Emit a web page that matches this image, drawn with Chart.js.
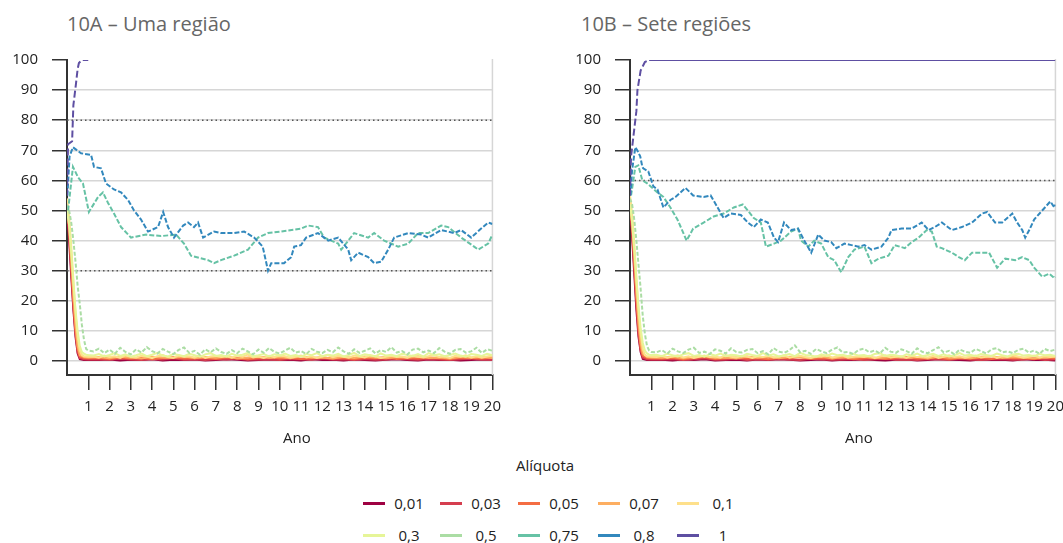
<!DOCTYPE html>
<html lang="pt">
<head>
<meta charset="UTF-8" />
<script src="https://cdn.jsdelivr.net/npm/chart.js"></script>
<title>Alíquota – uma região e sete regiões</title>
<style>
    body {
        margin: 0;
        width: 1063px;
        height: 543px;
        background: #fff;
        position: relative;
        overflow: hidden;
        font-family: "Open Sans", sans-serif;
        color: #222;
    }
    canvas { position: absolute; top: 0; }
    .titulo { position: absolute; top: 10px; font-size: 20px; color: #666; white-space: nowrap; }
    .ano { position: absolute; top: 427px; font-size: 15px; }
    #aliquota { position: absolute; top: 455px; left: 0; width: 1090px; text-align: center; font-size: 15px; }
    .item { position: absolute; height: 22px; display: flex; align-items: center; font-size: 15px; }
    .item .linha { width: 22px; height: 3px; }
    .item span { width: 48px; text-align: center; }
</style>
</head>
<body>

<div class="titulo" style="left:67px">10A – Uma região</div>
<div class="titulo" style="left:581px">10B – Sete regiões</div>

<canvas id="graficoA" width="509" height="430" style="left:0"></canvas>
<canvas id="graficoB" width="509" height="430" style="left:563px"></canvas>

<div class="ano" style="left:283px">Ano</div>
<div class="ano" style="left:845px">Ano</div>

<div id="aliquota">Alíquota</div>
<div id="legenda"></div>

<script>
    // rótulos e cores das alíquotas
    const aliquotas = ['0,01', '0,03', '0,05', '0,07', '0,1', '0,3', '0,5', '0,75', '0,8', '1'];
    const cores = ['#9e0142', '#d53e4f', '#f46d43', '#fdae61', '#fee08b', '#e6f598', '#abdda4', '#66c2a5', '#3288bd', '#5e4fa2'];

    const anos = [1, 2, 3, 4, 5, 6, 7, 8, 9, 10, 11, 12, 13, 14, 15, 16, 17, 18, 19, 20];
    const ticksY = [0, 10, 20, 30, 40, 50, 60, 70, 80, 90, 100];

    // grades de tempo (anos)
    const anosFino = [0,0.1,0.2,0.3,0.4,0.5,0.6,0.7,0.8,0.9,1,1.25,1.5,1.75,2,2.25,2.5,2.75,3,3.25,3.5,3.75,4,4.25,4.5,4.75,5,5.25,5.5,5.75,6,6.25,6.5,6.75,7,7.25,7.5,7.75,8,8.25,8.5,8.75,9,9.25,9.5,9.75,10,10.25,10.5,10.75,11,11.25,11.5,11.75,12,12.25,12.5,12.75,13,13.25,13.5,13.75,14,14.25,14.5,14.75,15,15.25,15.5,15.75,16,16.25,16.5,16.75,17,17.25,17.5,17.75,18,18.25,18.5,18.75,19,19.25,19.5,19.75,20];
    const anosGrosso = [0,0.1,0.2,0.3,0.4,0.5,0.6,0.8,1,1.5,2,2.5,3,3.5,4,4.5,5,5.5,6,6.5,7,7.5,8,8.5,9,9.5,10,10.5,11,11.5,12,12.5,13,13.5,14,14.5,15,15.5,16,16.5,17,17.5,18,18.5,19,19.5,20];

    // ---- 10A: uma região ----
    const a001 = [50,40,28,17,8,2.5,0.6,0.3,0.3, 0.3,0.5,0.2,0.4,0.3,0.6,0.2,0.4,0.3,0.5,0.2,0.3,0.6,0.4,0.2,0.3,0.5,0.3,0.4,0.2,0.6,0.3,0.4,0.2,0.5,0.3,0.2,0.4,0.6,0.3,0.2,0.5,0.3,0.4,0.2,0.3,0.5,0.4];
    const a003 = [51,42,30,18,9,3,1,0.6,0.5, 0.6,0.4,0.8,0.5,0.3,0.7,0.5,0.9,0.4,0.6,0.3,0.7,0.5,0.8,0.4,0.6,0.5,0.3,0.7,0.6,0.4,0.8,0.5,0.6,0.3,0.7,0.4,0.5,0.9,0.6,0.4,0.7,0.5,0.3,0.6,0.8,0.5,0.4];
    const a005 = [52,44,32,20,10,4,1.5,1.0,0.9, 1.0,0.7,1.2,0.8,1.1,0.6,1.0,1.3,0.8,0.9,1.1,0.7,1.2,0.9,0.6,1.0,1.3,0.8,1.1,0.7,0.9,1.2,0.8,1.0,0.6,1.1,0.9,1.3,0.7,1.0,0.8,1.2,0.9,0.7,1.1,1.0,0.8,1.2];
    const a007 = [53,45,34,22,12,5,2,1.3,1.2, 1.3,0.9,1.5,1.1,0.8,1.4,1.2,1.0,1.6,0.9,1.3,1.1,1.5,0.8,1.2,1.4,1.0,1.3,0.9,1.6,1.1,1.2,0.8,1.4,1.0,1.5,1.2,0.9,1.3,1.1,1.6,1.0,1.2,0.8,1.4,1.1,1.3,1.0];
    const a01 = [54,48,38,27,16,8,3.5,2,1.6,1.5,1.4,
        1.5,1.1,1.8,1.3,1.6,1.0,1.9,1.4,1.2,1.7,1.5,0.9,1.6,2.0,1.3,1.1,1.8,1.4,1.6,1.2,
        1.9,1.0,1.5,1.7,1.3,1.6,1.1,1.8,1.4,2.1,1.2,1.5,1.0,1.7,1.3,1.9,1.6,1.1,1.4,1.8,
        1.2,1.6,1.0,1.5,2.0,1.3,1.7,1.4,1.1,1.8,1.5,1.2,1.9,1.6,1.0,1.4,1.7,1.3,1.5,1.1,
        1.8,1.4,1.2,1.6,2.0,1.3,1.5,1.0,1.7,1.4,1.9,1.2,1.6,1.1,1.5,1.8];
    const a03 = [50,45,36,26,17,10,5,3,2.4,2.1,2.0,
        1.8,2.3,1.5,2.0,2.6,1.7,2.2,1.4,1.9,2.5,1.6,2.1,2.7,1.8,1.5,2.3,2.0,1.6,2.4,1.9,
        1.4,2.2,2.6,1.7,2.0,1.5,2.4,1.8,2.1,2.7,1.6,1.9,2.3,1.5,2.2,1.8,2.5,1.7,2.0,1.4,
        2.3,1.9,2.6,1.6,2.1,1.8,2.4,1.5,2.0,2.7,1.7,2.2,1.9,1.5,2.5,1.8,2.1,1.6,2.4,2.0,
        1.7,2.3,1.5,2.6,1.9,2.2,1.6,2.0,2.5,1.8,1.4,2.3,2.1,1.7,2.4,1.9];
    const a05 = [52,50,46,40,33,25,19,12,7,4,3.5,
        3.2,4.1,2.6,3.8,2.4,4.4,3.0,2.2,3.9,2.8,4.6,3.3,2.5,4.0,3.1,2.3,3.7,4.5,2.7,3.4,
        2.1,3.9,2.9,4.2,3.0,2.4,3.6,2.6,4.1,3.2,2.2,3.8,2.7,4.3,3.0,2.5,3.5,4.4,2.8,3.3,
        2.3,4.0,3.1,2.6,3.7,2.9,4.5,3.2,2.4,3.9,2.7,3.4,4.2,2.5,3.6,3.0,4.6,2.8,3.3,2.2,
        3.8,4.1,2.9,3.5,2.6,4.3,3.1,2.4,3.7,4.0,2.8,3.2,4.4,2.7,3.9,3.4];
    const anosA075 = [0.05,0.28,0.52,0.75,1.03,1.46,1.69,1.93,2.21,2.54,3.01,3.72,4.42,5.13,5.5,5.83,6.63,6.91,7.24,7.86,8.51,8.98,9.45,10.07,11.0,11.34,11.8,12.09,12.75,12.89,13.5,14.16,14.44,14.91,15.57,16.04,16.51,16.98,17.59,17.92,18.53,19.14,19.33,19.8,20];
    const a075 = [50,64.5,61,59,49.5,54.5,56,52.5,49,44.5,41,42,41.5,42,39,35,33.5,32.5,33.5,35,37,41,42.5,43,44,45,44.5,41,39,37,42.5,41,42.5,40,38,39,42.5,42.5,45,44.5,41,38,37,39,42];
    const anosA08 = [0.02,0.12,0.28,0.66,1.13,1.27,1.6,1.83,2.21,2.54,2.87,3.15,3.48,3.81,4.28,4.52,4.75,5.03,5.46,5.69,5.97,6.16,6.4,6.91,7.24,7.86,8.33,8.8,9.2,9.45,9.6,10.2,10.54,10.68,11.0,11.24,11.8,12.28,12.75,13.22,13.36,13.69,14.16,14.44,14.77,15.1,15.38,16.04,16.65,16.98,17.59,18.2,18.53,19.0,19.47,19.8,20];
    const a08 = [55,68,71,69,68.5,64.5,64,59,57,56,53.5,50,47,43,44.5,49.5,44.5,41,45,46,44.5,46,41,43,42.5,42.5,43,41,38,30,32.5,32.5,34.5,38,38.5,41,42.5,40,41,37,33.5,36,34.5,32.5,33,37,41,42.5,42,41,43.5,42.5,43.5,41,44,46,45.5];
    const anosA1 = [0,0.05,0.24,0.3,0.42,0.5,0.56,0.7,1.0];
    const a1 = [55,72,73,85,92,97,99,100,100];
    const refA = [80, 30];

    // ---- 10B: sete regiões ----
    const b001 = [51,41,29,17,8,3,0.7,0.3,0.3, 0.4,0.2,0.5,0.3,0.6,0.2,0.3,0.4,0.2,0.5,0.3,0.6,0.4,0.2,0.3,0.5,0.2,0.4,0.3,0.6,0.3,0.2,0.4,0.5,0.2,0.3,0.6,0.4,0.3,0.2,0.5,0.3,0.4,0.2,0.6,0.3,0.4,0.2];
    const b003 = [52,43,31,19,9,3.5,1.2,0.6,0.5, 0.5,0.7,0.3,0.6,0.9,0.4,0.5,0.8,0.3,0.6,0.4,0.7,0.5,0.3,0.8,0.6,0.4,0.5,0.7,0.3,0.6,0.9,0.4,0.5,0.3,0.7,0.6,0.4,0.8,0.5,0.3,0.6,0.7,0.4,0.5,0.9,0.3,0.6];
    const b005 = [53,44,33,21,11,4.5,1.8,1.0,0.9, 0.8,1.1,0.6,1.0,1.3,0.7,0.9,1.2,0.8,1.0,0.6,1.1,0.9,1.3,0.7,1.0,0.8,1.2,0.6,0.9,1.1,0.7,1.0,1.3,0.8,0.9,1.2,0.6,1.0,0.8,1.1,0.7,1.3,0.9,1.0,0.6,1.2,0.8];
    const b007 = [54,46,35,23,13,6,2.5,1.3,1.2, 1.1,1.4,0.9,1.3,1.6,1.0,1.2,0.8,1.5,1.1,1.3,0.9,1.4,1.2,1.0,1.6,0.8,1.3,1.1,1.5,0.9,1.2,1.4,1.0,1.3,0.8,1.5,1.1,1.2,0.9,1.4,1.6,1.0,1.3,1.1,0.9,1.2,1.4];
    const b01 = [55,49,39,28,17,9,4,2,1.6,1.5,1.4,
        1.3,1.7,1.1,1.5,1.9,1.2,1.6,1.0,1.4,1.8,1.3,1.5,1.1,2.0,1.4,1.2,1.7,1.5,1.0,1.6,
        1.3,1.8,1.2,1.4,1.9,1.1,1.5,1.7,1.3,1.0,1.6,1.4,2.0,1.2,1.5,1.8,1.1,1.4,1.6,1.3,
        1.7,1.0,1.5,1.9,1.2,1.4,1.6,1.1,1.8,1.3,1.5,1.2,1.7,1.0,1.4,1.9,1.3,1.6,1.1,1.5,
        1.8,1.2,1.4,1.7,1.0,1.6,1.3,1.9,1.5,1.1,1.4,1.8,1.2,1.6,1.3,1.5];
    const b03 = [52,46,37,27,18,11,6,3.5,2.5,2.1,2.0,
        2.1,1.6,2.4,1.9,1.5,2.2,2.6,1.7,2.0,1.4,2.3,1.8,2.5,1.6,2.1,1.9,1.5,2.4,2.0,1.7,
        2.6,1.8,2.2,1.5,1.9,2.3,1.6,2.7,2.0,1.8,1.4,2.2,1.7,2.5,1.9,2.1,1.6,2.4,1.8,2.0,
        1.5,2.3,2.6,1.7,2.1,1.9,1.4,2.2,1.8,2.5,1.6,2.0,2.4,1.7,2.2,1.5,1.9,2.6,1.8,2.1,
        1.6,2.3,2.0,1.7,2.5,1.9,1.5,2.2,2.4,1.8,2.0,1.6,2.3,1.9,2.1,1.7];
    const b05 = [54,52,47,40,32,24,15,9,5,3.5,3,
        2.9,3.6,2.4,4.1,3.2,2.6,3.8,4.4,2.7,3.1,2.3,3.9,3.4,2.5,4.2,3.0,2.8,3.7,4.0,2.6,
        3.3,2.2,4.3,3.1,2.7,3.6,5.2,2.9,3.4,2.4,4.0,3.2,2.6,3.8,4.5,2.8,3.0,2.3,3.7,4.1,
        2.9,3.5,2.5,4.4,3.1,2.7,3.9,3.3,2.4,4.2,3.0,2.6,3.6,4.6,2.8,3.4,2.2,3.8,3.1,2.7,
        4.0,3.3,2.5,3.9,4.3,2.9,3.2,2.6,3.7,4.1,2.8,3.5,2.4,4.0,3.3,3.8];
    const anosB075 = [0.05,0.25,0.39,0.58,0.81,1.29,1.57,1.9,2.23,2.51,2.66,2.97,3.46,3.93,4.4,4.88,5.3,5.54,5.82,6.15,6.39,6.77,7.1,7.57,7.9,8.04,8.38,8.66,8.99,9.32,9.6,9.93,10.26,10.55,11.02,11.35,11.68,12.15,12.44,12.92,13.24,13.57,13.95,14.19,14.42,14.66,15.13,15.46,15.74,16.08,16.55,16.88,17.26,17.64,18.11,18.44,18.77,19.0,19.38,19.71,19.95,20];
    const b075 = [55,64.5,65,60,59,56,54.5,51,47,42.5,40,44,46,48,49,51,52,50,47.5,46,38,39,40,43,44,40,38,40,39,34.5,33.5,29.5,34.5,37,38,32.5,34,35,38.5,37.5,39.5,41,43.5,43,38,37.5,36,34.5,33.5,36,36,36,31,34,33.5,34.5,33.5,31,28,29,27.5,28];
    const anosB08 = [0.02,0.1,0.25,0.34,0.48,0.58,0.62,0.86,1.1,1.29,1.57,1.9,2.14,2.61,2.97,3.46,3.79,4.12,4.4,4.73,5.21,5.54,5.82,6.15,6.48,6.77,6.96,7.24,7.57,7.9,8.19,8.52,8.85,9.13,9.46,9.7,10.08,10.41,10.74,11.02,11.35,11.82,12.15,12.29,12.77,13.24,13.71,14.04,14.33,14.66,15.13,15.6,16.08,16.55,16.79,17.16,17.5,17.97,18.2,18.44,18.58,18.77,19.0,19.38,19.76,19.95,20];
    const b08 = [55,63.5,71,70,68,64.5,64,63,58,57,51,53.5,54.5,57.5,55,54.5,55,51,47.5,49,48.5,46,44.5,47,46,41,39.5,46,43.5,44,40,36,42,40,39.5,37.5,39,38.5,38,38.5,37,38,41,43.5,44,44,46,43.5,44.5,46,43.5,44.5,46,49,49.5,46,46,49,46,43.5,41,43.5,47,50,53,51,52];
    const anosB1 = [0,0.05,0.15,0.3,0.35,0.5,0.7,0.9,20];
    const b1 = [55,68,74,83,90,96.5,99.3,100,100];
    const refB = [60];

    const fonte = { family: '"Open Sans", sans-serif', size: 15 };

    function pontos(xs, ys) {
        return xs.map((x, i) => ({ x: x, y: ys[i] }));
    }

    function montarSeries(lista) {
        // lista na ordem das alíquotas: [anos, valores]; 0,01 fica por baixo
        return lista.map((s, i) => {
            const ds = {
                label: aliquotas[i],
                data: pontos(s[0], s[1]),
                borderColor: cores[i],
                borderWidth: 2,
                pointRadius: 0,
                tension: 0,
                fill: false,
                order: 20 - i
            };
            if (i === 6) ds.borderDash = [4, 2];
            if (i === 7 || i === 8) ds.borderDash = [5, 2];
            if (i === 9) {
                ds.segment = { borderDash: c => c.p0.parsed.x < 0.85 ? [7, 3] : undefined };
            }
            return ds;
        });
    }

    function linhasRef(valores) {
        return valores.map(v => ({
            label: 'ref',
            data: [{ x: 0, y: v }, { x: 20, y: v }],
            borderColor: '#555',
            borderWidth: 1.5,
            borderDash: [1.5, 3],
            pointRadius: 0,
            order: 30
        }));
    }

    const bordaDireita = {
        id: 'bordaDireita',
        beforeDatasetsDraw(chart) {
            const { ctx, chartArea: a } = chart;
            ctx.save();
            ctx.strokeStyle = '#d6d6d6';
            ctx.lineWidth = 1.5;
            ctx.beginPath();
            ctx.moveTo(a.right, a.top - 1);
            ctx.lineTo(a.right, a.bottom);
            ctx.stroke();
            ctx.restore();
        }
    };

    function criarGrafico(id, series, refs) {
        return new Chart(document.getElementById(id), {
            type: 'line',
            data: { datasets: montarSeries(series).concat(linhasRef(refs)) },
            options: {
                responsive: false,
                animation: false,
                devicePixelRatio: 1,
                layout: { padding: { top: 60, right: 0, left: 0, bottom: 0 } },
                plugins: { legend: { display: false }, tooltip: { enabled: false } },
                scales: {
                    x: {
                        type: 'linear',
                        min: 0,
                        max: 20,
                        afterBuildTicks: s => { s.ticks = anos.map(v => ({ value: v })); },
                        afterFit: s => { s.height = 55; },
                        ticks: { autoSkip: false, maxRotation: 0, padding: 8, font: fonte, color: '#222' },
                        grid: { drawOnChartArea: false, tickLength: 15, tickColor: '#333', lineWidth: 1.5 },
                        border: { color: '#333', width: 2 }
                    },
                    y: {
                        min: -4.65,
                        max: 100,
                        afterBuildTicks: s => { s.ticks = ticksY.map(v => ({ value: v })); },
                        afterFit: s => { s.width = 67; },
                        ticks: { padding: 14, font: fonte, color: '#222' },
                        grid: {
                            color: c => (c.tick && c.tick.value === 100) ? 'rgba(0,0,0,0)' : '#d6d6d6',
                            tickColor: '#333',
                            tickLength: 15,
                            lineWidth: 1.5
                        },
                        border: { color: '#333', width: 2 }
                    }
                }
            },
            plugins: [bordaDireita]
        });
    }

    criarGrafico('graficoA', [
        [anosGrosso, a001], [anosGrosso, a003], [anosGrosso, a005], [anosGrosso, a007],
        [anosFino, a01], [anosFino, a03], [anosFino, a05],
        [anosA075, a075], [anosA08, a08], [anosA1, a1]
    ], refA);

    criarGrafico('graficoB', [
        [anosGrosso, b001], [anosGrosso, b003], [anosGrosso, b005], [anosGrosso, b007],
        [anosFino, b01], [anosFino, b03], [anosFino, b05],
        [anosB075, b075], [anosB08, b08], [anosB1, b1]
    ], refB);

    // legenda em duas linhas
    const legenda = document.getElementById('legenda');
    const posX = [363, 440, 518, 598, 677];
    aliquotas.forEach((rot, i) => {
        const item = document.createElement('div');
        item.className = 'item';
        item.style.left = posX[i % 5] + 'px';
        item.style.top = (i < 5 ? 492 : 524) + 'px';
        item.innerHTML = '<div class="linha" style="background:' + cores[i] + '"></div><span>' + rot + '</span>';
        legenda.appendChild(item);
    });
</script>
</body>
</html>
